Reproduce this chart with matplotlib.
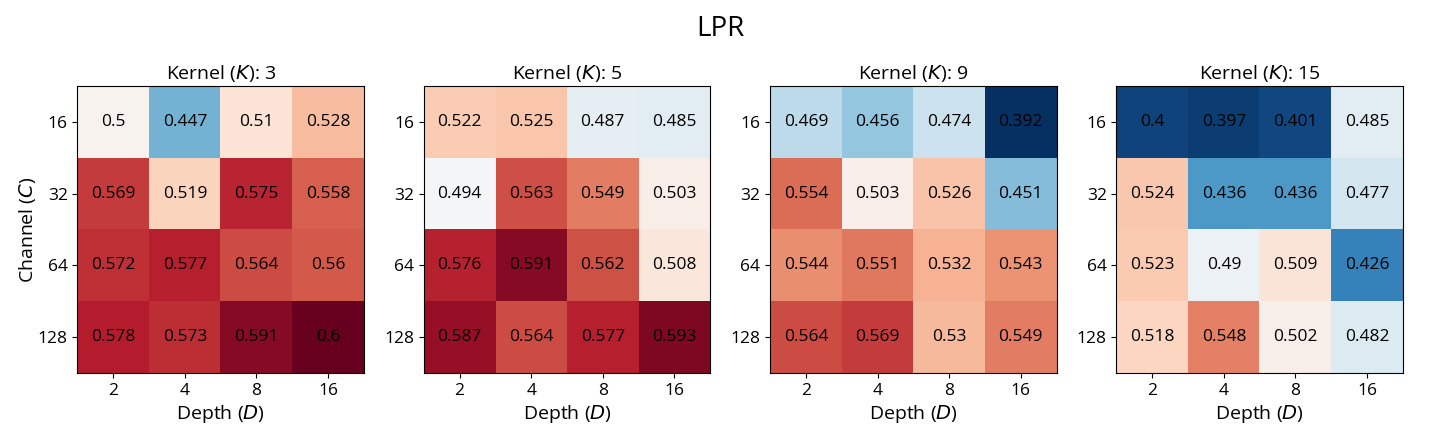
import numpy as np
import matplotlib
matplotlib.use('Agg')
import matplotlib.pyplot as plt

plt.rcParams['font.family'] = ['Open Sans', 'DejaVu Sans']

# Значения для каждого ядра (строки: каналы, столбцы: глубина)
channels = [16, 32, 64, 128]
depths = [2, 4, 8, 16]
kernels = [3, 5, 9, 15]

lpr_k3 = [[0.5, 0.447, 0.51, 0.528],
          [0.569, 0.519, 0.575, 0.558],
          [0.572, 0.577, 0.564, 0.56],
          [0.578, 0.573, 0.591, 0.6]]
lpr_k5 = [[0.522, 0.525, 0.487, 0.485],
          [0.494, 0.563, 0.549, 0.503],
          [0.576, 0.591, 0.562, 0.508],
          [0.587, 0.564, 0.577, 0.593]]
lpr_k9 = [[0.469, 0.456, 0.474, 0.392],
          [0.554, 0.503, 0.526, 0.451],
          [0.544, 0.551, 0.532, 0.543],
          [0.564, 0.569, 0.53, 0.549]]
lpr_k15 = [[0.4, 0.397, 0.401, 0.485],
           [0.524, 0.436, 0.436, 0.477],
           [0.523, 0.49, 0.509, 0.426],
           [0.518, 0.548, 0.502, 0.482]]

all_data = [lpr_k3, lpr_k5, lpr_k9, lpr_k15]
# Общая шкала цветов для всех панелей
vmin = min(np.min(d) for d in all_data)
vmax = max(np.max(d) for d in all_data)

fig, axes = plt.subplots(1, 4, figsize=(14.4, 4.32), dpi=100)
fig.subplots_adjust(left=0.053, right=0.975, top=0.80, bottom=0.137, wspace=0.2)

for ax, k, data in zip(axes, kernels, all_data):
    arr = np.array(data)
    ax.imshow(arr, cmap='RdBu_r', vmin=vmin, vmax=vmax)
    for i in range(arr.shape[0]):
        for j in range(arr.shape[1]):
            ax.text(j, i, f'{arr[i, j]:g}', ha='center', va='center',
                    color='black', fontsize=12.5)
    ax.set_xticks(range(len(depths)))
    ax.set_xticklabels(depths, fontsize=12.5)
    ax.set_yticks(range(len(channels)))
    ax.set_yticklabels(channels, fontsize=12.5)
    ax.set_title(f'Kernel ($K$): {k}', fontsize=14, pad=5)
    ax.set_xlabel('Depth ($D$)', fontsize=14, labelpad=3)

axes[0].set_ylabel('Channel ($C$)', fontsize=14, labelpad=0)
fig.suptitle('LPR', fontsize=20, y=0.965)

plt.savefig('out.png', dpi=100)
